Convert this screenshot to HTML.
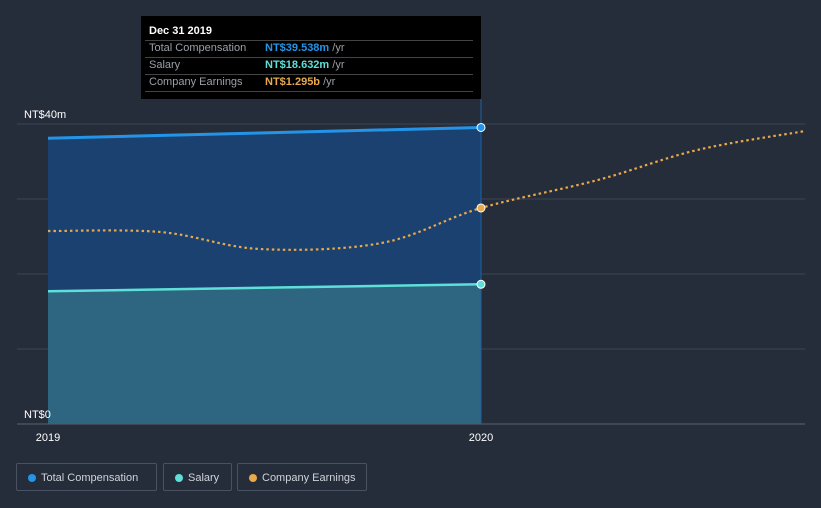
<!DOCTYPE html>
<html><head><meta charset="utf-8"><style>
body{margin:0;background:#262d3a;font-family:"Liberation Sans",sans-serif;}
#wrap{position:relative;width:821px;height:508px;overflow:hidden;}
.leg{position:absolute;top:463px;height:28px;border:1px solid #4a5262;border-radius:2px;color:#cfd3da;font-size:11px;line-height:28px;padding:0 10px 0 24px;box-sizing:border-box;}
.leg i{position:absolute;left:11px;top:10px;width:8px;height:8px;border-radius:50%;}
</style></head><body><div id="wrap">
<svg id="svg" width="821" height="508" style="position:absolute;left:0;top:0"></svg>
<div class="leg" style="left:16px;width:141px"><i style="background:#2394e8"></i>Total Compensation</div>
<div class="leg" style="left:163px;width:69px"><i style="background:#5ee0d8"></i>Salary</div>
<div class="leg" style="left:237px;width:130px"><i style="background:#e8a94a"></i>Company Earnings</div>
<div style="position:absolute;left:141px;top:16px;width:340px;height:83px;background:#000;font-size:11px;color:#9aa0a8">
<div style="position:absolute;left:8px;top:9px;color:#fff;font-weight:bold">Dec 31 2019</div>
<div style="position:absolute;left:4px;right:8px;top:24px;border-top:1px solid #444"></div>
<div style="position:absolute;left:8px;top:26px">Total Compensation</div><div style="position:absolute;left:124px;top:26px"><b style="color:#2394e8">NT$39.538m</b> /yr</div>
<div style="position:absolute;left:4px;right:8px;top:41px;border-top:1px solid #444"></div>
<div style="position:absolute;left:8px;top:43px">Salary</div><div style="position:absolute;left:124px;top:43px"><b style="color:#5ee0d8">NT$18.632m</b> /yr</div>
<div style="position:absolute;left:4px;right:8px;top:58px;border-top:1px solid #444"></div>
<div style="position:absolute;left:8px;top:60px">Company Earnings</div><div style="position:absolute;left:124px;top:60px"><b style="color:#e8a94a">NT$1.295b</b> /yr</div>
<div style="position:absolute;left:4px;right:8px;top:75px;border-top:1px solid #444"></div>
</div>
</div>
<script>
const compYears=[2019.0,2020.0];
const totalComp=[38.1,39.538];
const salary=[17.7,18.632];
const earnYears=[2019.0,2019.26,2019.49,2019.77,2020.0,2020.27,2020.5,2020.75];
const earnings=[1.157,1.151,1.049,1.085,1.295,1.463,1.643,1.757];
const yTicks=[0,10,20,30,40];
const xTicks=[2019,2020];
const NS="http://www.w3.org/2000/svg",svg=document.getElementById('svg');
const X=t=>48+(t-2019)*433, Y=v=>424-v*7.5, YE=v=>424-v*166.8;
function mk(tag,a){const e=document.createElementNS(NS,tag);for(const k in a)e.setAttribute(k,a[k]);svg.appendChild(e);return e;}
yTicks.forEach(v=>{const l=mk('line',{x1:17,x2:805,y1:Y(v),y2:Y(v),stroke:v==0?'#5a6170':'#3e4553'});

});
function area(vals,fill,name){let d=`M${X(compYears[0])},424`;vals.forEach((v,i)=>d+=`L${X(compYears[i])},${Y(v)}`);d+=`L${X(compYears[compYears.length-1])},424Z`;
const p=mk('path',{d,fill});

}
area(totalComp,'#1b4170','total-comp-area');
area(salary,'#2e6580','salary-area');
const vl=mk('line',{x1:481,x2:481,y1:99,y2:424,stroke:'#1f5fa0'});


function straight(xs,vals,yf,col,w,name){const d='M'+vals.map((v,i)=>X(xs[i])+','+yf(v)).join('L');
const p=mk('path',{d,fill:'none',stroke:col,'stroke-width':w});

}
function smooth(xs,vals,yf,col,w,dash,name){const P=vals.map((v,i)=>[X(xs[i]),yf(v)]);let d=`M${P[0]}`;
for(let i=0;i<P.length-1;i++){const p0=P[Math.max(i-1,0)],p1=P[i],p2=P[i+1],p3=P[Math.min(i+2,P.length-1)];
const c1=[p1[0]+(p2[0]-p0[0])/6,p1[1]+(p2[1]-p0[1])/6],c2=[p2[0]-(p3[0]-p1[0])/6,p2[1]-(p3[1]-p1[1])/6];
d+=`C${c1} ${c2} ${p2}`;}
const p=mk('path',{d,fill:'none',stroke:col,'stroke-width':w,'stroke-dasharray':dash});

}
straight(compYears,totalComp,Y,'#2394e8',3,'total-comp-line');
straight(compYears,salary,Y,'#5ee0d8',2.5,'salary-line');
smooth(earnYears,earnings,YE,'#e8a94a',2.2,'2.5 3','earnings-line');
[[0,'NT$0'],[40,'NT$40m']].forEach(([v,s])=>{const t=mk('text',{x:24,y:Y(v)-6,fill:'#fff','font-size':11});t.textContent=s;

});
xTicks.forEach(v=>{const t=mk('text',{x:X(v),y:441,fill:'#fff','font-size':11,'text-anchor':'middle'});t.textContent=v;

});
[[X(2020),Y(totalComp[1]),'#2394e8'],[X(2020),Y(salary[1]),'#5ee0d8'],[X(2020),YE(earnings[4]),'#e8a94a']].forEach(([x,y,c])=>{
const d=mk('circle',{cx:x,cy:y,r:4,fill:c,stroke:'#fff','stroke-width':1});

});
</script></body></html>
